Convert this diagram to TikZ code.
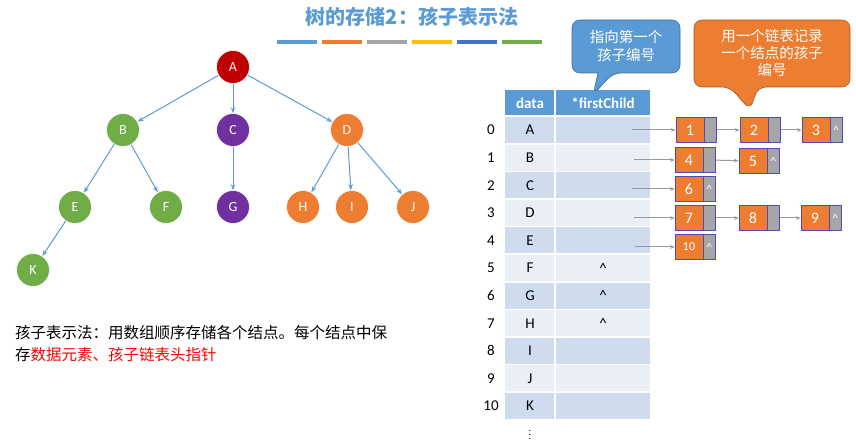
\documentclass[tikz,border=0pt]{standalone}
\usepackage{fontspec}
\usetikzlibrary{arrows.meta}
\setmainfont{Carlito}
\newfontfamily\cjk{Noto Sans CJK SC}
\begin{document}
\begin{tikzpicture}[x=1pt,y=-1pt,
 tn/.style={circle,draw=white,line width=0.6pt,minimum size=33pt,inner sep=0pt,text=white,font=\fontsize{14}{14}\selectfont},
 ed/.style={draw=bl,line width=1pt,-{Stealth[length=6pt]}},
 ob/.style={draw=blue!40!gray,fill=cD,minimum width=28pt,minimum height=25pt,inner sep=0pt,text=white,font=\fontsize{16}{16}\selectfont},
 gb/.style={draw=blue!40!gray,fill=gray!70,minimum width=12pt,minimum height=25pt,inner sep=0pt,text=white,font=\fontsize{12}{12}\selectfont},
 ar/.style={draw=gray!80,line width=1pt,-{Stealth[length=5pt]}},
 tx/.style={font=\fontsize{15}{15}\selectfont}]
\definecolor{cA}{HTML}{C00000}\definecolor{cB}{HTML}{70AD47}\definecolor{cC}{HTML}{7030A0}\definecolor{cD}{HTML}{ED7D31}
\definecolor{bl}{HTML}{5B9BD5}\definecolor{hd}{HTML}{5B9BD5}\definecolor{r1}{HTML}{CFDCEE}\definecolor{r2}{HTML}{E9EEF7}
\useasboundingbox (0,0) rectangle (856,443);
\node[font=\cjk\bfseries\fontsize{20}{20}\selectfont,text=bl] (title) at (412,17) {树的存储2：孩子表示法};
\foreach \c [count=\i] in {5B9BD5,ED7D31,A5A5A5,FFC000,4472C4,70AD47}{
 \definecolor{tmp}{HTML}{\c}\fill[tmp] (277+\i*45-45,40) rectangle (317+\i*45-45,44);}
% tree
\foreach \n/\x/\y/\c in {A/233/67/cA,B/123/130/cB,C/233/130/cC,D/347/130/cD,E/75/207/cB,F/166/207/cB,G/233/207/cC,H/303/207/cD,I/352/207/cD,J/413/207/cD,K/33/270/cB}
 \node[tn,fill=\c] (\n) at (\x,\y) {\n};
\foreach \a/\b in {A/B,A/C,A/D,B/E,B/F,C/G,D/H,D/I,D/J,E/K} \draw[ed] (\a) -- (\b);
\node[anchor=west,font=\cjk\fontsize{15.5}{15.5}\selectfont,inner sep=0pt] (t1) at (15,333) {孩子表示法：用数组顺序存储各个结点。每个结点中保};
\node[anchor=west,font=\cjk\fontsize{15.5}{15.5}\selectfont,inner sep=0pt] (t2) at (15,355) {存\textcolor{red}{数据元素、孩子链表头指针}};
% table
\fill[hd] (505,90) rectangle (554,115); \fill[hd] (556,90) rectangle (650,115);
\node[text=white,font=\bfseries\fontsize{15}{15}\selectfont] (h1) at (530,103) {data};
\node[text=white,font=\bfseries\fontsize{15}{15}\selectfont] (h2) at (603,103) {*firstChild};
\foreach \l/\fc [count=\i from 0] in {A/,B/,C/,D/,E/,F/\^{},G/\^{},H/\^{},I/,J/,K/}{
 \pgfmathsetmacro\yc{130+27.6*\i}
 \ifodd\i \def\rc{r2}\else\def\rc{r1}\fi
 \fill[\rc] (505,\yc-13) rectangle (554,\yc+13);
 \fill[\rc] (556,\yc-13) rectangle (650,\yc+13);
 \node[tx] (d\i) at (530,\yc) {\l};
 \node[tx] (f\i) at (603,\yc) {\fc};
 \node[tx] (i\i) at (491,\yc) {\i};}
\node[inner sep=0pt,font=\fontsize{10}{10}\selectfont] (dots) at (530,432) {$\vdots$};
% lists
\foreach \n/\x/\y/\e in {1/690/130/,2/754/130/,3/816/130/\^{},4/689/160/,5/753/161/\^{},6/689/189/\^{},7/689/218/,8/753/218/,9/815/218/\^{},10/689/247/\^{}}{
 \node[ob] (n\n) at (\x,\y) {\ifnum\n=10 \fontsize{12}{12}\selectfont\fi\n};
 \node[gb,anchor=west] (g\n) at (n\n.east) {\e};}
\coordinate (s0) at (632,130);\coordinate (s1) at (634,160);\coordinate (s2) at (632,189);\coordinate (s3) at (634,218);\coordinate (s4) at (635,247);
\draw[ar] (s0) -- (n1); \draw[ar] (s1) -- (n4); \draw[ar] (s2) -- (n6); \draw[ar] (s3) -- (n7); \draw[ar] (s4) -- (n10);
\draw[ar] (g1) -- (n2); \draw[ar] (g2) -- (n3); \draw[ar] (g4) -- (n5); \draw[ar] (g7) -- (n8); \draw[ar] (g8) -- (n9);
% callouts
\draw[fill=bl,draw=bl!70!black,line width=0.6pt,rounded corners=8pt] (572,20) -- (680,20) -- (680,73) -- (613,73) -- (593,95) [sharp corners] -- (598,73) [rounded corners=8pt] -- (572,73) -- cycle;
\node[text=white,font=\cjk\fontsize{14.5}{18}\selectfont,align=center] (c1) at (626,46) {指向第一个\\孩子编号};
\draw[fill=cD,draw=cD!70!black,line width=0.6pt,rounded corners=8pt] (694,20) -- (850,20) -- (850,87) -- (758,87) -- (750,110) -- (730,87) -- (694,87) -- cycle;
\node[text=white,font=\cjk\fontsize{14.5}{17}\selectfont,align=center] (c2) at (772,53) {用一个链表记录\\一个结点的孩子\\编号};
\end{tikzpicture}
\end{document}
